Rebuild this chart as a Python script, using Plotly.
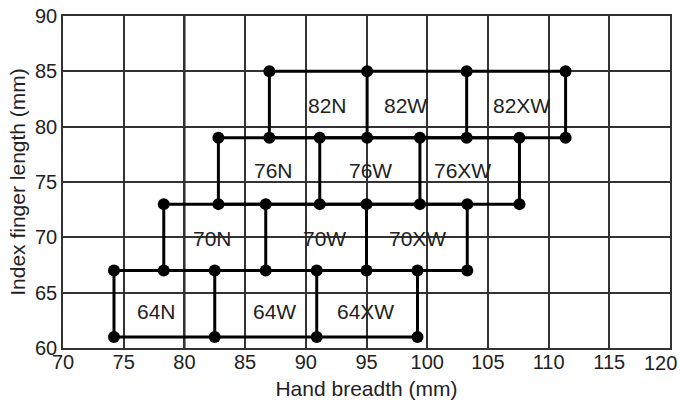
import plotly.graph_objects as go

# Data
group_names = ["64", "70", "76", "82"]
group_bottom = [61, 67, 73, 79]
group_top = [67, 73, 79, 85]
group_x = [
    [74.2, 82.5, 90.9, 99.2],
    [78.3, 86.7, 95.0, 103.3],
    [82.8, 91.15, 99.4, 107.6],
    [87.0, 95.05, 103.25, 111.4],
]
label_suffix = ["N", "W", "XW"]
label_x = [
    [77.7, 87.4, 94.9],
    [82.3, 91.5, 99.2],
    [87.3, 95.3, 102.9],
    [91.8, 98.2, 107.8],
]
label_y = [63.3, 69.9, 76.0, 81.9]

x_ticks = [70, 75, 80, 85, 90, 95, 100, 105, 110, 115, 120]
y_ticks = [60, 65, 70, 75, 80, 85, 90]

line_x, line_y = [], []
mark_x, mark_y = [], []
for xs, yb, yt in zip(group_x, group_bottom, group_top):
    line_x += [xs[0], xs[-1], None, xs[0], xs[-1], None]
    line_y += [yb, yb, None, yt, yt, None]
    for xv in xs:
        line_x += [xv, xv, None]
        line_y += [yb, yt, None]
        mark_x += [xv, xv]
        mark_y += [yb, yt]

fig = go.Figure()
fig.add_trace(go.Scatter(x=line_x, y=line_y, mode="lines",
                         line=dict(color="black", width=3),
                         hoverinfo="skip", showlegend=False, cliponaxis=False))
fig.add_trace(go.Scatter(x=mark_x, y=mark_y, mode="markers",
                         marker=dict(color="black", size=12),
                         showlegend=False, cliponaxis=False))

for gname, lxs, ly in zip(group_names, label_x, label_y):
    for suf, lx in zip(label_suffix, lxs):
        fig.add_annotation(x=lx, y=ly, text=gname + suf, showarrow=False,
                           font=dict(size=21, color="#222"))

# slightly heavier grid line at x=80, as in the reference
fig.add_shape(type="line", xref="x", yref="paper", x0=80, x1=80, y0=0, y1=1,
              line=dict(color="#222", width=2.2), layer="below")

# the last x tick label sits at the right edge: draw it right-aligned
x_ticktext = [str(v) for v in x_ticks[:-1]] + [""]
fig.add_annotation(x=x_ticks[-1], xref="x", y=0, yref="paper",
                   text=str(x_ticks[-1]), showarrow=False,
                   xanchor="right", yanchor="top", xshift=9, yshift=-2,
                   font=dict(size=20, color="#222"))

font_family = "Liberation Sans, Arial, sans-serif"
fig.update_layout(
    width=681, height=406,
    margin=dict(l=63, r=11, t=16, b=58),
    paper_bgcolor="white", plot_bgcolor="white",
    font=dict(family=font_family, size=20, color="#222"),
)
fig.update_xaxes(range=[70, 120], tickvals=x_ticks, ticktext=x_ticktext,
                 showgrid=True,
                 gridcolor="#333", gridwidth=1.5, zeroline=False,
                 showline=True, linecolor="#333", linewidth=1.5, mirror=True,
                 ticks="", ticklen=0, automargin=False, ticklabeloverflow="allow",
                 ticklabelstandoff=-5,
                 title=dict(text="Hand breadth (mm)", standoff=10,
                            font=dict(size=21)),
                 tickfont=dict(size=20))
fig.update_yaxes(range=[60, 90], tickvals=y_ticks, showgrid=True,
                 gridcolor="#333", gridwidth=1.5, zeroline=False,
                 showline=True, linecolor="#333", linewidth=1.5, mirror=True,
                 ticks="", ticklen=0, automargin=False, ticklabeloverflow="allow",
                 title=dict(text="Index finger length (mm)", standoff=4,
                            font=dict(size=21)),
                 tickfont=dict(size=20))

fig.write_html("out.html",
               config={"displayModeBar": False},
               post_script="document.body.style.margin='0px';"
                           "document.body.style.overflow='hidden';")
